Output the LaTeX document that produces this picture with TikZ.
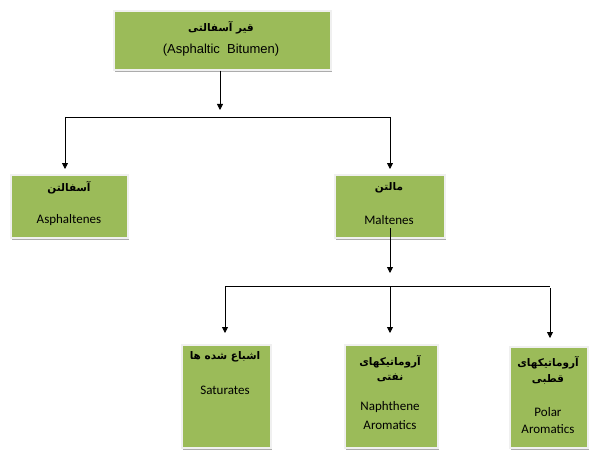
\documentclass[tikz,border=0pt]{standalone}
\usepackage{fontspec}
\setmainfont{Carlito}
\newfontfamily\arialf{Liberation Sans}
\newfontfamily\fa[Script=Arabic]{DejaVu Sans}
\TeXXeTstate=1
\usetikzlibrary{arrows.meta,shadows}
\definecolor{boxgreen}{RGB}{155,187,89}
\begin{document}
\begin{tikzpicture}[x=1pt,y=-1pt,
  box/.style={draw=gray!12, line width=1.6pt, fill=boxgreen,
    drop shadow={shadow xshift=1.6pt,shadow yshift=-1.8pt,fill=gray!65,opacity=1},
    inner sep=0pt, anchor=north west},
  en/.style={font=\fontsize{13}{15}\selectfont, inner sep=0pt},
  entop/.style={font=\arialf\fontsize{13}{15}\selectfont, inner sep=0pt},
  pe/.style={font=\fa\bfseries\fontsize{10.5}{12}\selectfont, inner sep=0pt},
  arr/.style={line width=0.8pt, -{Triangle[length=6pt,width=6pt]}},
  ln/.style={line width=0.8pt}]
\useasboundingbox (0,0) rectangle (611,452);
\fill[white] (0,0) rectangle (611,452);
% boxes
\node[box, minimum width=217pt, minimum height=59pt] (top) at (113,10) {};
\node[box, minimum width=117pt, minimum height=63pt] (asph) at (10,174) {};
\node[box, minimum width=110pt, minimum height=63pt] (malt) at (334,174) {};
\node[box, minimum width=89pt, minimum height=103pt] (sat) at (181,344) {};
\node[box, minimum width=93pt, minimum height=103pt] (naph) at (344,344) {};
\node[box, minimum width=78pt, minimum height=101pt] (polar) at (509,346) {};
% texts
\node[pe] (t1) at (221,28) {\beginR قیر آسفالتی\endR};
\node[entop] (t2) at (221,50) {(Asphaltic\ \ Bitumen)};
\node[pe] (a1) at (69,188) {\beginR آسفالتن\endR};
\node[en] (a2) at (69,220) {Asphaltenes};
\node[pe] (m1t) at (389,188) {\beginR مالتن\endR};
\node[en] (m2t) at (389,220) {Maltenes};
\node[pe] (s1) at (225,357) {\beginR اشباع شده ها\endR};
\node[en] (s2) at (225,390) {Saturates};
\node[pe] (n1) at (390,362) {\beginR آروماتیکهای\endR};
\node[pe] (n2) at (390,378) {\beginR نفتی\endR};
\node[en] (n3) at (390,407) {Naphthene};
\node[en] (n4) at (390,425) {Aromatics};
\node[pe] (p1) at (548,363) {\beginR آروماتیکهای\endR};
\node[pe] (p2) at (548,379) {\beginR قطبی\endR};
\node[en] (p3) at (548,412) {Polar};
\node[en] (p4) at (548,429) {Aromatics};
% connectors level 1
\coordinate (ja) at (220,110);
\coordinate (hL) at (65,117);
\coordinate (hR) at (390,117);
\draw[arr] (top.south -| ja) -- (ja);
\draw[ln] (hL) -- (hR);
\draw[arr, shorten >=5pt] (hL) -- (hL |- asph.north);
\draw[arr, shorten >=5pt] (hR) -- (hR |- malt.north);
% connectors level 2
\coordinate (mA) at (390,228);
\coordinate (mB) at (390,273);
\coordinate (gL) at (225,286);
\coordinate (gM) at (390,286);
\coordinate (gR) at (550,286);
\coordinate (gR2) at (550,288);
\draw[arr] (mA) -- (mB);
\draw[ln] (gL) -- (gR);
\draw[arr, shorten >=11pt] (gL) -- (gL |- sat.north);
\draw[arr, shorten >=11pt] (gM) -- (gM |- naph.north);
\draw[arr, shorten >=8pt] (gR2) -- (gR2 |- polar.north);
\end{tikzpicture}
\end{document}
